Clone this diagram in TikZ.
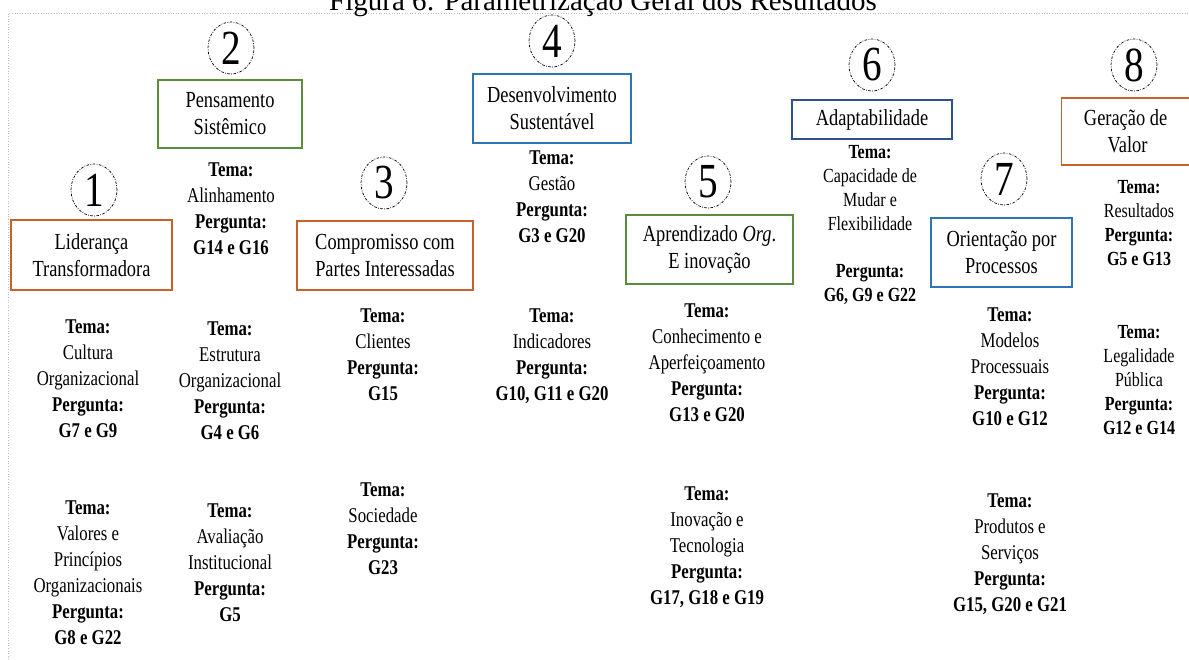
\documentclass[tikz,border=0pt]{standalone}
\usepackage{fontspec}
\setmainfont{Liberation Serif}
\newfontfamily\narrowserif{Liberation Serif}[FakeStretch=0.8]
\usetikzlibrary{shapes.geometric}

\definecolor{pillarorange}{RGB}{200,98,45}
\definecolor{pillargreen}{RGB}{92,140,62}
\definecolor{pillarblue}{RGB}{46,117,182}
\definecolor{pillarnavy}{RGB}{47,79,143}
\definecolor{framegray}{RGB}{190,190,190}

\begin{document}
\begin{tikzpicture}[x=1pt,y=-1pt,
  every node/.style={inner sep=0pt},
  body/.style={font=\narrowserif\fontsize{21}{26}\selectfont, align=center, anchor=north},
  small/.style={font=\narrowserif\fontsize{20}{23.8}\selectfont, align=center, anchor=north},
  pillar/.style={draw=#1, line width=1.2pt, align=center,
    font=\narrowserif\fontsize{23}{27}\selectfont},
  marker/.style={ellipse, draw, line width=0.7pt,
    dash pattern=on 2.6pt off 1.4pt on 0.8pt off 1.4pt,
    minimum width=46pt, minimum height=52pt,
    font=\narrowserif\fontsize{49}{49}\selectfont}
]
\useasboundingbox (0,0) rectangle (1189,659);

% page frame and caption
\coordinate (fb) at (8,659);
\coordinate (fc) at (8,13);
\coordinate (fr) at (1189,13);
\draw[framegray, dotted, line width=0.6pt] (fb) -- (fc) -- (fr);
\node[font=\fontsize{29}{30}\selectfont, anchor=base] (title) at (603,10)
  {Figura 6: Parametrização Geral dos Resultados};

% numbered markers
\node[marker] (c1) at (94,190) {1};
\node[marker] (c2) at (231,48) {2};
\node[marker] (c3) at (384,183) {3};
\node[marker] (c4) at (552,41) {4};
\node[marker] (c5) at (708,182) {5};
\node[marker] (c6) at (872,65) {6};
\node[marker] (c7) at (1004,179) {7};
\node[marker] (c8) at (1134,65) {8};

% pillar boxes
\node[pillar=pillarorange, minimum width=161pt, minimum height=70pt] (b1) at (91.5,255) {Liderança\\Transformadora};
\node[pillar=pillargreen, minimum width=144pt, minimum height=68pt] (b2) at (230,114) {Pensamento\\Sistêmico};
\node[pillar=pillarorange, minimum width=176pt, minimum height=69pt] (b3) at (385,255.5) {Compromisso com\\Partes Interessadas};
\node[pillar=pillarblue, minimum width=158pt, minimum height=69pt] (b4) at (552,108.5) {Desenvolvimento\\Sustentável};
\node[pillar=pillargreen, minimum width=167pt, minimum height=69pt] (b5) at (709.5,249.5) {Aprendizado \textit{Org}.\\E inovação};
\node[pillar=pillarnavy, minimum width=160pt, minimum height=39pt] (b6) at (872,119.5) {Adaptabilidade};
\node[pillar=pillarblue, minimum width=141pt, minimum height=69pt] (b7) at (1001.5,252.5) {Orientação por\\Processos};
\node[pillar=pillarorange, minimum width=132pt, minimum height=67pt, anchor=west] (b8) at (1061,131.5) {\hspace*{-4pt}Geração de\\Valor};

% themes and questions
\node[body] (t1a) at (88,320) {\textbf{Tema:}\\Cultura\\Organizacional\\\textbf{Pergunta:}\\\textbf{G7 e G9}};
\node[body] (t1b) at (88,501) {\textbf{Tema:}\\Valores e\\Princípios\\Organizacionais\\\textbf{Pergunta:}\\\textbf{G8 e G22}};
\node[body] (t2a) at (231,163) {\textbf{Tema:}\\Alinhamento\\\textbf{Pergunta:}\\\textbf{G14 e G16}};
\node[body] (t2b) at (230,322) {\textbf{Tema:}\\Estrutura\\Organizacional\\\textbf{Pergunta:}\\\textbf{G4 e G6}};
\node[body] (t2c) at (230,504) {\textbf{Tema:}\\Avaliação\\Institucional\\\textbf{Pergunta:}\\\textbf{G5}};
\node[body] (t3a) at (383,309) {\textbf{Tema:}\\Clientes\\\textbf{Pergunta:}\\\textbf{G15}};
\node[body] (t3b) at (383,483) {\textbf{Tema:}\\Sociedade\\\textbf{Pergunta:}\\\textbf{G23}};
\node[body] (t4a) at (552,151) {\textbf{Tema:}\\Gestão\\\textbf{Pergunta:}\\\textbf{G3 e G20}};
\node[body] (t4b) at (552,309) {\textbf{Tema:}\\Indicadores\\\textbf{Pergunta:}\\\textbf{G10, G11 e G20}};
\node[body] (t5a) at (707,304) {\textbf{Tema:}\\Conhecimento e\\Aperfeiçoamento\\\textbf{Pergunta:}\\\textbf{G13 e G20}};
\node[body] (t5b) at (707,487) {\textbf{Tema:}\\Inovação e\\Tecnologia\\\textbf{Pergunta:}\\\textbf{G17, G18 e G19}};
\node[small] (t6) at (870,145.5) {\textbf{Tema:}\\Capacidade de\\Mudar e\\Flexibilidade\\[23.8pt]\textbf{Pergunta:}\\\textbf{G6, G9 e G22}};
\node[body] (t7a) at (1010,308) {\textbf{Tema:}\\Modelos\\Processuais\\\textbf{Pergunta:}\\\textbf{G10 e G12}};
\node[body] (t7b) at (1010,494) {\textbf{Tema:}\\Produtos e\\Serviços\\\textbf{Pergunta:}\\\textbf{G15, G20 e G21}};
\node[small] (t8a) at (1139,180.5) {\textbf{Tema:}\\Resultados\\\textbf{Pergunta:}\\\textbf{G5 e G13}};
\node[small] (t8b) at (1139,325.5) {\textbf{Tema:}\\Legalidade\\Pública\\\textbf{Pergunta:}\\\textbf{G12 e G14}};
\end{tikzpicture}
\end{document}
